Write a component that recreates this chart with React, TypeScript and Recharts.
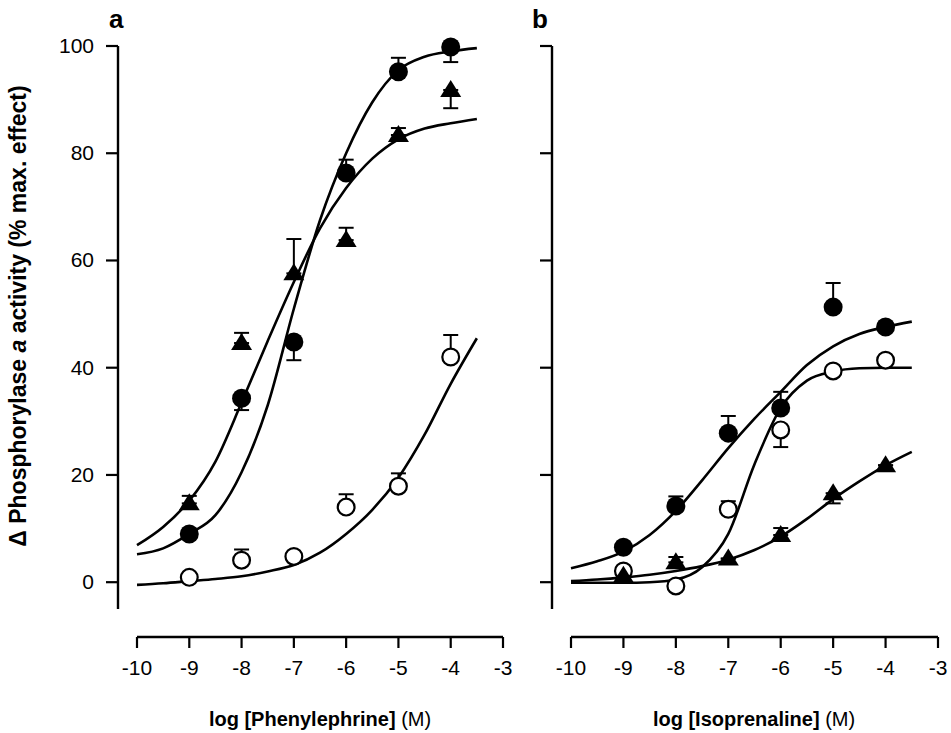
import { ComposedChart, Line, Scatter, XAxis, YAxis, ErrorBar } from 'recharts';

const xTicks = [-10, -9, -8, -7, -6, -5, -4, -3];
const yTicks = [0, 20, 40, 60, 80, 100];
const doses = [-9, -8, -7, -6, -5, -4];
const fitX = [-10, -9.5, -9, -8.5, -8, -7.5, -7, -6.5, -6, -5.5, -5, -4.5, -4, -3.5];

// panel a: phenylephrine. errors are [below, above]
const pheFilled = [9, 34.3, 44.8, 76.3, 95.2, 99.8];
const pheFilledErr = [[0, 0], [2.2, 0], [3.4, 0], [0, 2.5], [0, 2.6], [2.8, 0]];
const pheTri = [14.7, 44.6, 57.6, 63.8, 83.4, 91.8];
const pheTriErr = [[0, 1.4], [0, 1.9], [0, 6.4], [0, 2.3], [0, 1.3], [3.4, 0]];
const pheOpen = [0.9, 4.1, 4.8, 14.0, 17.9, 42.0];
const pheOpenErr = [[0, 0], [0, 2.0], [0, 0], [0, 2.4], [0, 2.4], [0, 4.1]];

const pheFilledFit = [5.2, 6.3, 9.0, 12.5, 20.5, 33, 51, 67.5, 80, 89.5, 95.5, 98, 99, 99.6];
const pheTriFit = [6.9, 10.3, 15.2, 22.5, 33.5, 45, 56, 66, 73.5, 79, 82.6, 84.6, 85.6, 86.4];
const pheOpenFit = [-0.5, -0.2, 0.2, 0.6, 1.1, 2, 3.2, 5.5, 9, 13.5, 19.5, 27.5, 37, 45.5];

// panel b: isoprenaline
const isoFilled = [6.5, 14.2, 27.8, 32.5, 51.3, 47.6];
const isoFilledErr = [[0, 0], [0, 1.8], [0, 3.2], [0, 3.0], [0, 4.5], [0, 0]];
const isoOpen = [2.1, -0.7, 13.6, 28.4, 39.4, 41.4];
const isoOpenErr = [[0, 0], [0, 0], [0, 1.5], [3.2, 0], [0, 0], [0, 0]];
const isoTri = [1.2, 3.7, 4.4, 8.8, 16.6, 21.8];
const isoTriErr = [[0, 0], [0, 1.0], [0, 0], [0, 1.3], [1.9, 0], [0, 0]];

const isoFilledFit = [2.6, 3.9, 5.7, 8.8, 13.3, 19, 25, 30.5, 35.5, 40.5, 44, 46.3, 47.6, 48.6];
const isoOpenFit = [-0.1, -0.1, -0.1, 0, 0.5, 2.8, 9, 22, 32.5, 37.6, 39.3, 39.9, 40, 40];
const isoTriFit = [0.2, 0.5, 0.9, 1.4, 2.1, 3, 4.2, 6, 8.5, 11.8, 15.5, 18.8, 21.8, 24.3];

const FONT = '"Liberation Sans", Arial, Helvetica, sans-serif';
const NARROW = '"Liberation Sans Narrow", "Arial Narrow", "Liberation Sans", Arial, sans-serif';

const toPoints = (ys: number[], errs: number[][]) =>
  doses.map((x, i) => ({ x, y: ys[i], err: errs[i] }));
const toCurve = (ys: number[]) => fitX.map((x, i) => ({ x, y: ys[i] }));

const FilledCircle = (p: any) => <circle cx={p.cx} cy={p.cy} r={9.5} fill="#000" />;
const OpenCircle = (p: any) => (
  <circle cx={p.cx} cy={p.cy} r={8.4} fill="#fff" stroke="#000" strokeWidth={2.2} />
);
const Triangle = (p: any) => (
  <polygon
    points={`${p.cx},${p.cy - 10} ${p.cx - 10.5},${p.cy + 7} ${p.cx + 10.5},${p.cy + 7}`}
    fill="#000"
  />
);

// axes are offset from the plot like in the original figure
const XTick = (p: any) => (
  <g>
    <line x1={p.x} x2={p.x} y1={p.y + 28} y2={p.y + 39} stroke="#000" strokeWidth={2.2} />
    <text x={p.x} y={p.y + 66} textAnchor="middle" fontSize={21} fontFamily={NARROW} fill="#000">
      {p.payload.value}
    </text>
  </g>
);

const makeYTick = (showLabel: boolean) => (p: any) => (
  <g>
    <line x1={p.x - 31} x2={p.x - 19} y1={p.y} y2={p.y} stroke="#000" strokeWidth={2.2} />
    {showLabel && (
      <text x={p.x - 43} y={p.y + 7} textAnchor="end" fontSize={21} fontFamily={NARROW} fill="#000">
        {p.payload.value}
      </text>
    )}
  </g>
);

type Series = { pts: any[]; shape: any };

const Panel = ({ left, width, marginLeft, marginRight, showLabels, series, curves }: {
  left: number; width: number; marginLeft: number; marginRight: number;
  showLabels: boolean; series: Series[]; curves: any[][];
}) => (
  <div style={{ position: 'absolute', left, top: 0 }}>
    <ComposedChart
      width={width}
      height={733}
      margin={{ top: 46, right: marginRight, bottom: 24, left: marginLeft }}
      style={{ overflow: 'visible' }}
    >
      <XAxis
        type="number"
        dataKey="x"
        domain={[-10, -3]}
        ticks={xTicks}
        interval={0}
        height={100}
        tickSize={0}
        tickMargin={0}
        tickLine={false}
        axisLine={{ stroke: '#000', strokeWidth: 2.4, transform: 'translate(0, 28)' } as any}
        tick={XTick}
      />
      <YAxis
        type="number"
        domain={[-5, 100]}
        ticks={yTicks}
        interval={0}
        width={120}
        tickSize={0}
        tickMargin={0}
        tickLine={false}
        axisLine={{ stroke: '#000', strokeWidth: 2.4, transform: 'translate(-19, 0)' } as any}
        tick={makeYTick(showLabels)}
      />
      {series.map((s, i) => (
        <Scatter key={`s${i}`} data={s.pts} dataKey="y" shape={s.shape} isAnimationActive={false}>
          <ErrorBar dataKey="err" direction="y" width={7.5} stroke="#000" strokeWidth={2} />
        </Scatter>
      ))}
      {curves.map((c, i) => (
        <Line
          key={`c${i}`}
          data={c}
          dataKey="y"
          type="monotone"
          stroke="#000"
          strokeWidth={2.6}
          dot={false}
          activeDot={false}
          isAnimationActive={false}
        />
      ))}
    </ComposedChart>
  </div>
);

export default function App() {
  return (
    <div style={{ position: 'absolute', left: 0, top: 0, width: 951, height: 733, background: '#fff' }}>
      <Panel
        left={0}
        width={520}
        marginLeft={17}
        marginRight={17}
        showLabels
        series={[
          { pts: toPoints(pheOpen, pheOpenErr), shape: OpenCircle },
          { pts: toPoints(pheTri, pheTriErr), shape: Triangle },
          { pts: toPoints(pheFilled, pheFilledErr), shape: FilledCircle },
        ]}
        curves={[toCurve(pheFilledFit), toCurve(pheTriFit), toCurve(pheOpenFit)]}
      />
      <Panel
        left={440}
        width={511}
        marginLeft={11}
        marginRight={13}
        showLabels={false}
        series={[
          { pts: toPoints(isoOpen, isoOpenErr), shape: OpenCircle },
          { pts: toPoints(isoTri, isoTriErr), shape: Triangle },
          { pts: toPoints(isoFilled, isoFilledErr), shape: FilledCircle },
        ]}
        curves={[toCurve(isoFilledFit), toCurve(isoOpenFit), toCurve(isoTriFit)]}
      />
      <svg
        width={951}
        height={733}
        style={{ position: 'absolute', left: 0, top: 0, pointerEvents: 'none' }}
        fontFamily={FONT}
      >
        <text x={109} y={28} fontSize={26} fontWeight="bold">a</text>
        <text x={532} y={28} fontSize={26} fontWeight="bold">b</text>
        <text
          x={26}
          y={316}
          fontSize={23}
          fontWeight="bold"
          textAnchor="middle"
          transform="rotate(-90 26 316)"
        >
          Δ Phosphorylase <tspan fontStyle="italic">a</tspan> activity (% max. effect)
        </text>
        <text x={320} y={726} fontSize={20} fontWeight="bold" textAnchor="middle">
          log [Phenylephrine] <tspan fontWeight="normal">(M)</tspan>
        </text>
        <text x={754} y={726} fontSize={20} fontWeight="bold" textAnchor="middle">
          log [Isoprenaline] <tspan fontWeight="normal">(M)</tspan>
        </text>
      </svg>
    </div>
  );
}
